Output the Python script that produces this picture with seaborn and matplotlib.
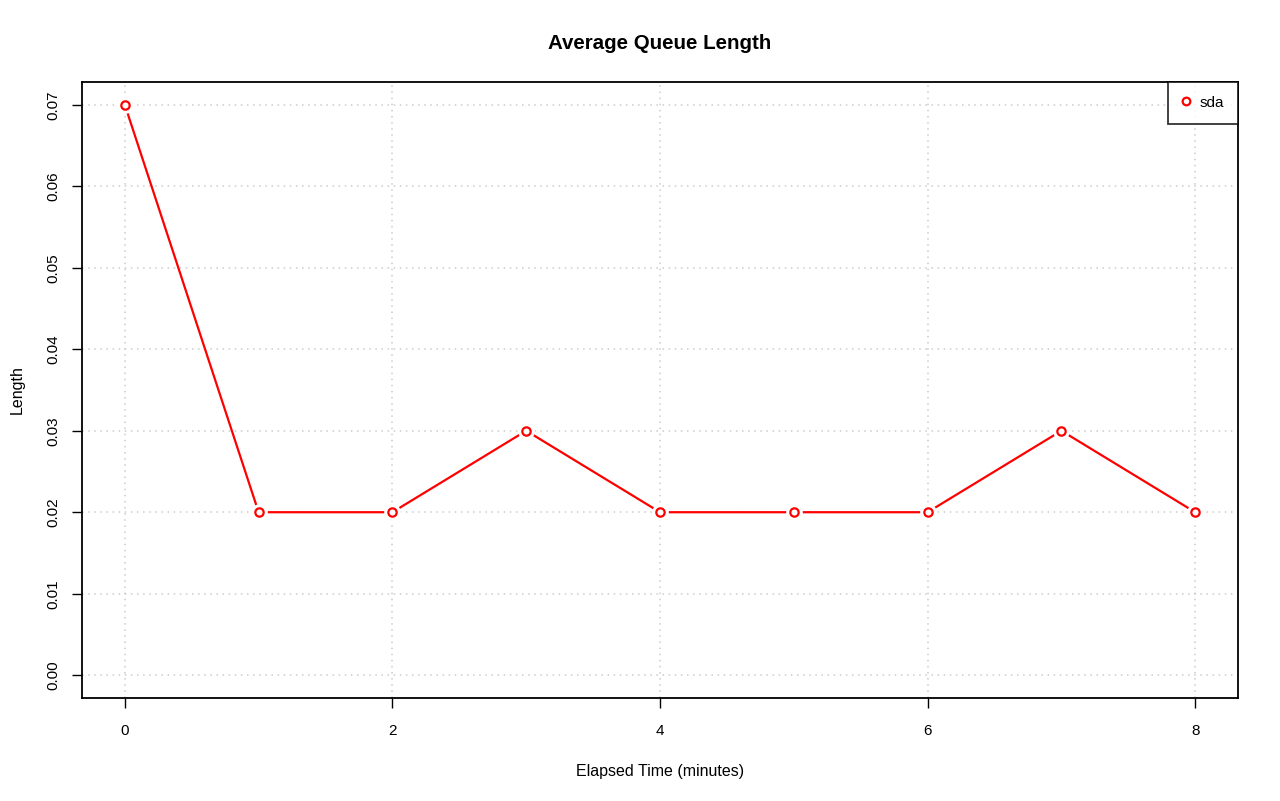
import matplotlib
matplotlib.use("Agg")
import matplotlib.pyplot as plt
import seaborn as sns
import pandas as pd

# datos
minutos = [0, 1, 2, 3, 4, 5, 6, 7, 8]
longitud = [0.07, 0.02, 0.02, 0.03, 0.02, 0.02, 0.02, 0.03, 0.02]
xticks = [0, 2, 4, 6, 8]
yticks = [0.00, 0.01, 0.02, 0.03, 0.04, 0.05, 0.06, 0.07]

df = pd.DataFrame({"minutos": minutos, "longitud": longitud})

sns.set_style("white")
plt.rcParams["font.family"] = ["Liberation Sans", "DejaVu Sans"]
plt.rcParams["text.color"] = "black"
plt.rcParams["xtick.color"] = "black"
plt.rcParams["ytick.color"] = "black"
plt.rcParams["axes.labelcolor"] = "black"

fig = plt.figure(figsize=(12.8, 8.01), dpi=100)
ax = fig.add_axes([82 / 1280, 1 - 698 / 801, (1238 - 82) / 1280, (698 - 82) / 801])

# linea
sns.lineplot(data=df, x="minutos", y="longitud", color="red", linewidth=1.6, ax=ax, zorder=3)
# hueco blanco alrededor de los puntos (como type="b" en R)
ax.plot(minutos, longitud, "o", ms=12, mfc="white", mec="none", zorder=4)
ax.plot(minutos, longitud, "o", ms=6, mfc="white", mec="red", mew=1.6, zorder=5)

ax.set_xlim(-0.32, 8.32)
ax.set_ylim(-0.0028, 0.0728)
ax.set_xticks(xticks)
ax.set_yticks(yticks)
ax.set_xticklabels([str(t) for t in xticks])
ax.set_yticklabels(["%.2f" % t for t in yticks], rotation=90, va="center")
ax.tick_params(direction="out", length=7, width=1, labelsize=11, color="black",
               bottom=True, left=True)
ax.tick_params(axis="x", pad=12)
ax.tick_params(axis="y", pad=8.5)
ax.grid(True, color="#cccccc", linestyle=(0, (1, 3)), linewidth=1.1)
for s in ax.spines.values():
    s.set_color("black")
    s.set_linewidth(1.3)

ax.set_title("Average Queue Length", fontsize=14.8, fontweight="bold", pad=23.5)
ax.set_xlabel("Elapsed Time (minutes)", fontsize=11.5, labelpad=18.5)
ax.set_ylabel("Length", fontsize=11.5, labelpad=15.5)

# leyenda
h, = ax.plot([], [], "o", ms=5.5, mfc="white", mec="red", mew=1.6)
leg = ax.legend([h], ["sda"], loc="upper right", bbox_to_anchor=(1.0, 1.0), borderaxespad=0,
                frameon=True, fancybox=False, edgecolor="black", fontsize=11,
                handlelength=0.6, handletextpad=0.6, borderpad=0.9)
leg.get_frame().set_linewidth(1.3)

fig.savefig("out.png", dpi=100)
